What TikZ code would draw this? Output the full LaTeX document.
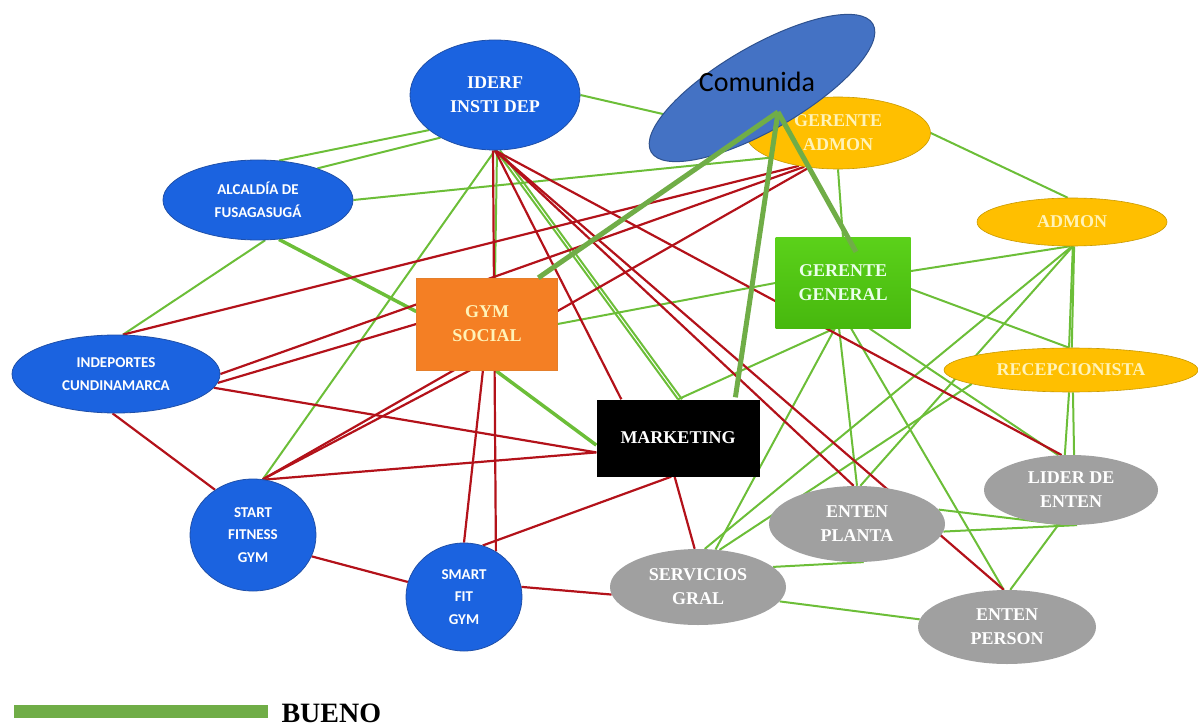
\documentclass[tikz,border=0pt]{standalone}
\usepackage{fontspec}
\setmainfont{Liberation Serif}
\newfontfamily\calibri{Carlito}
\usetikzlibrary{shapes.geometric,backgrounds,calc}

\definecolor{azul}{HTML}{1B63E0}
\definecolor{azulborde}{HTML}{1F4FA8}
\definecolor{oro}{HTML}{FFBF00}
\definecolor{oroborde}{HTML}{C99A00}
\definecolor{orotexto}{HTML}{FFF3B8}
\definecolor{naranja}{HTML}{F47F24}
\definecolor{verdegg}{HTML}{5BD11A}
\definecolor{verdeggb}{HTML}{47B80E}
\definecolor{gris}{HTML}{A0A0A0}
\definecolor{verde}{HTML}{6CBE38}
\definecolor{rojo}{HTML}{B3121A}
\definecolor{comazul}{HTML}{4472C4}
\definecolor{comborde}{HTML}{2F528F}
\definecolor{comverde}{HTML}{70AD47}

\begin{document}
\begin{tikzpicture}[x=1pt,y=-1pt,
  bueno/.style={draw=verde,line width=2pt},
  malo/.style={draw=rojo,line width=2.2pt},
  comu/.style={draw=comverde,line width=5pt},
  inst/.style={ellipse,fill=azul,draw=azulborde,line width=0.8pt,text=white,
    inner sep=0pt,align=center,font=\calibri\bfseries\fontsize{15}{22.5}\selectfont},
  cargo/.style={ellipse,fill=oro,draw=oroborde,line width=0.6pt,text=orotexto,
    inner sep=0pt,align=center,font=\bfseries\fontsize{18}{24}\selectfont},
  enten/.style={ellipse,fill=gris,text=white,inner sep=0pt,align=center,
    font=\bfseries\fontsize{18}{24}\selectfont},
  caja/.style={rectangle,inner sep=0pt,align=center,
    font=\bfseries\fontsize{18}{24}\selectfont}]

\useasboundingbox (0,0) rectangle (1198,727);

% Instituciones
\node[inst,minimum width=170,minimum height=110,
  font=\bfseries\fontsize{18}{24}\selectfont] (iderf) at (495,95) {IDERF\\INSTI DEP};
\node[inst,minimum width=190,minimum height=80] (alcaldia) at (258,200) {ALCALDÍA DE\\FUSAGASUGÁ};
\node[inst,minimum width=208,minimum height=78] (indep) at (116,374) {INDEPORTES\\CUNDINAMARCA};
\node[inst,minimum width=126,minimum height=112] (start) at (253,535) {START\\FITNESS\\GYM};
\node[inst,minimum width=116,minimum height=108] (smart) at (464,597) {SMART\\FIT\\GYM};

% Cajas
\node[caja,fill=naranja,draw=naranja!70!brown,text=orotexto,
  minimum width=141,minimum height=92] (gym) at (487,324) {GYM\\SOCIAL};
\node[caja,fill=black,text=white,minimum width=163,minimum height=77] (mkt) at (678,438) {MARKETING};
\node[caja,top color=verdegg,bottom color=verdeggb,text=green!8,
  minimum width=135,minimum height=90] (gg) at (843,283) {GERENTE\\GENERAL};

% Cargos
\node[cargo,minimum width=185,minimum height=72] (gadmon) at (838,133) {GERENTE\\ADMON};
\node[cargo,minimum width=190,minimum height=48] (admon) at (1072,222) {ADMON};
\node[cargo,minimum width=254,minimum height=44] (recep) at (1071,370) {RECEPCIONISTA};

% Entenadores
\node[enten,minimum width=174,minimum height=70] (lider) at (1071,490) {LIDER DE\\ENTEN};
\node[enten,minimum width=176,minimum height=76] (planta) at (857,524) {ENTEN\\PLANTA};
\node[enten,minimum width=176,minimum height=76] (serv) at (698,587) {SERVICIOS\\GRAL};
\node[enten,minimum width=178,minimum height=74] (person) at (1007,627) {ENTEN\\PERSON};

    \begin{scope}[on background layer] % Relaciones buenas
        \draw[bueno] (iderf.east) -- (gadmon.west);
        \draw[bueno] (iderf.208) -- (alcaldia.62);
        \draw[bueno] (iderf.218) -- (alcaldia.28);
        \draw[bueno] ([xshift=2pt]iderf.south) -- ([xshift=8pt]gym.north);
        \draw[bueno] (iderf.south) -- (start.80);
        \draw[bueno] ([xshift=1pt]iderf.south) -- (mkt.north);
        \draw[bueno] ([xshift=5pt]iderf.south) -- ([xshift=4pt]mkt.north);
        \draw[bueno] (alcaldia.east) -- (gadmon.200);
        \draw[bueno] (alcaldia.-80) -- (indep.80);
        \draw[bueno,line width=3.5pt] (alcaldia.-62) -- (gym.170);
        \draw[bueno] (gym.east) -- (gg.west);
        \draw[bueno,line width=3.5pt] (gym.-80) -- (mkt.185);
        \draw[bueno] (gg.-100) -- (mkt.north);
        \draw[bueno] (gg.north) -- (gadmon.south);
        \draw[bueno] (gadmon.east) -- (admon.100);
        \draw[bueno] (gg.10) -- (admon.-95);
        \draw[bueno] (gg.-5) -- (recep.95);
        \draw[bueno] (gg.-100) -- (serv.65);
        \draw[bueno] (gg.-95) -- (planta.north);
        \draw[bueno] (gg.-80) -- (person.95);
        \draw[bueno] (gg.-60) -- (lider.110);
        \draw[bueno] (admon.-85) -- (recep.88);
        \draw[bueno] (admon.-88) -- (recep.95);
        \draw[bueno] (admon.-88) -- (planta.85);
        \draw[bueno] (admon.-90) -- (serv.80);
        \draw[bueno] (recep.188) -- (serv.60);
        \draw[bueno] (recep.-95) -- (lider.100);
        \draw[bueno] (recep.-85) -- (lider.85);
        \draw[bueno] (lider.-110) -- (person.85);
        \draw[bueno] (planta.10) -- (lider.-95);
        \draw[bueno] (planta.-5) -- (lider.-80);
        \draw[bueno] (serv.15) -- (planta.-80);
        \draw[bueno] (serv.-10) -- (person.175);
    \end{scope}

    \begin{scope}[on background layer] % Relaciones malas
        \draw[malo] ([xshift=-2pt]iderf.south) -- (smart.55);
        \draw[malo] (iderf.south) -- ([xshift=25pt]mkt.north west);
        \draw[malo] (iderf.south) -- (lider.105);
        \draw[malo] (iderf.south) -- (planta.95);
        \draw[malo] (iderf.south) -- (person.95);
        \draw[malo] (gadmon.-140) -- (indep.80);
        \draw[malo] (gadmon.-135) -- (indep.east);
        \draw[malo] (gadmon.-130) -- (start.80);
        \draw[malo] (indep.-5) -- (gym.west);
        \draw[malo] (indep.-8) -- (mkt.190);
        \draw[malo] (indep.-95) -- (start.130);
        \draw[malo] (start.80) -- (gym.-110);
        \draw[malo] (start.78) -- (mkt.190);
        \draw[malo] (start.-20) -- (smart.165);
        \draw[malo] (smart.north) -- (gym.-95);
        \draw[malo] (smart.70) -- (mkt.-100);
        \draw[malo] (mkt.-95) -- (serv.95);
        \draw[malo] (smart.10) -- (serv.185);
    \end{scope}

% Comunidad
\node[ellipse,fill=comazul,draw=comborde,line width=1pt,minimum width=256,
  minimum height=84,inner sep=0pt,rotate=30] (comunida) at (762,88) {};
\node[font=\calibri\fontsize{28}{30}\selectfont] (comtexto) at (757,82) {Comunida};
\coordinate (hub) at (778,112);
\draw[comu] (hub) -- (gym.42);
\draw[comu] (hub) -- ([yshift=2pt]mkt.34);
\draw[comu] (hub) -- ([yshift=-14pt]gg.74);

% Leyenda
\fill[comverde] (14,705) rectangle (268,718);
\node[anchor=west,font=\bfseries\fontsize{28}{30}\selectfont] (bueno) at (278,713) {BUENO};

\end{tikzpicture}
\end{document}
